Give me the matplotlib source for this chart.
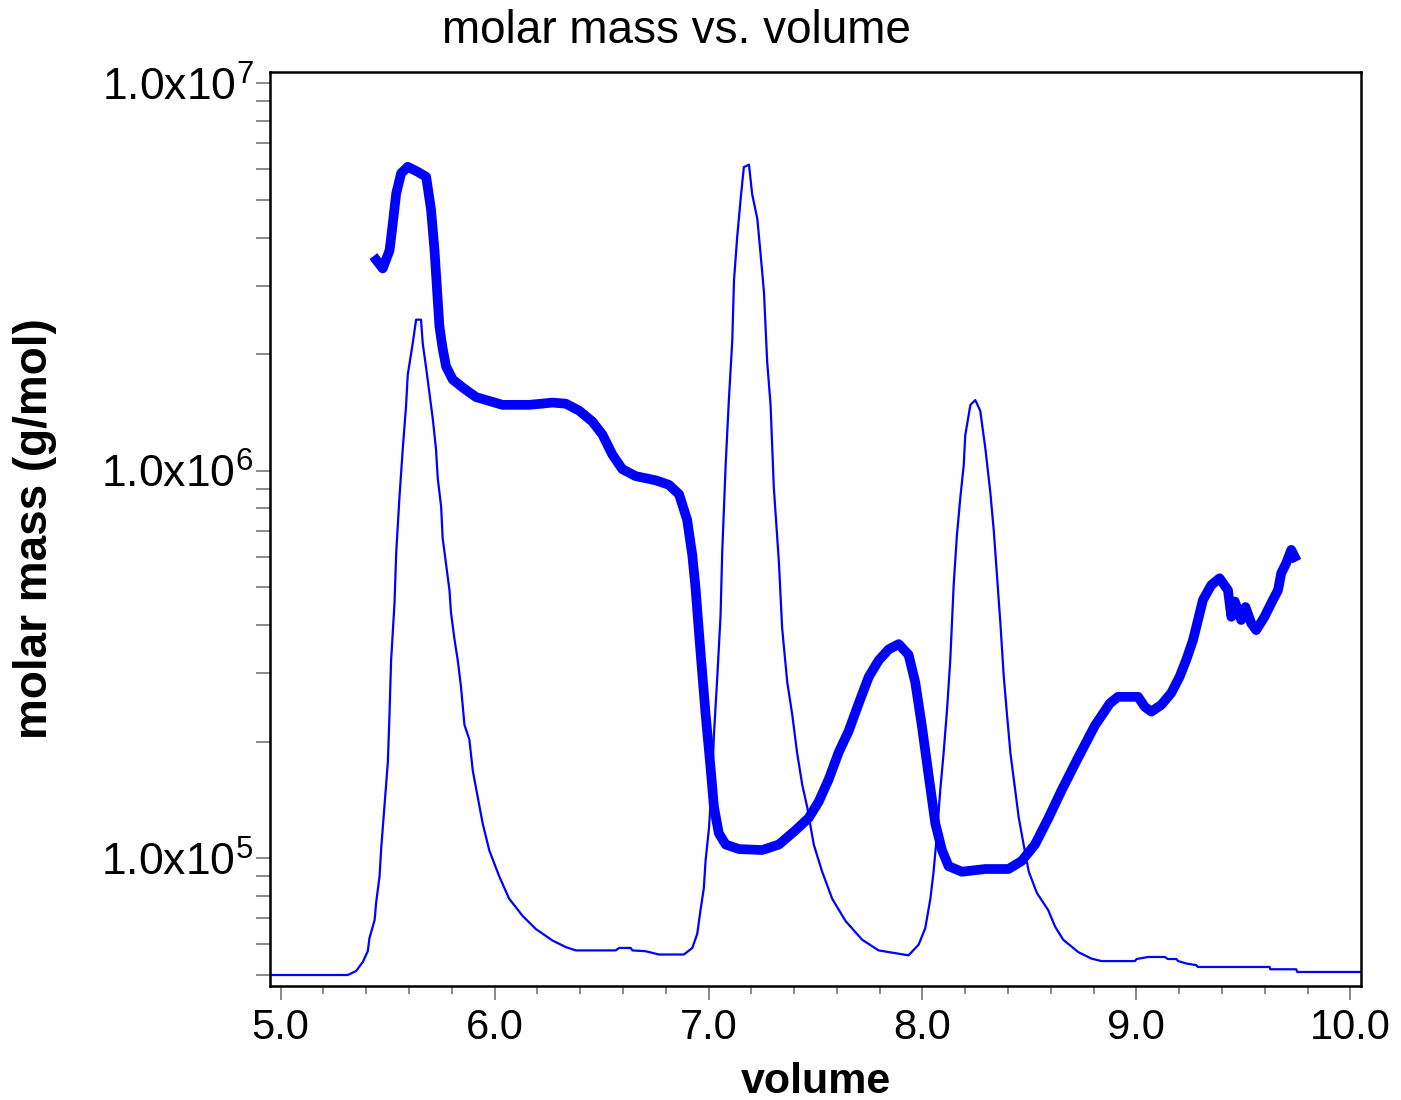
import matplotlib
matplotlib.use("Agg")
import matplotlib.pyplot as plt
from matplotlib.ticker import FixedLocator, FixedFormatter, LogLocator, NullFormatter, MultipleLocator
import numpy as np

plt.rcParams['font.family'] = ['Liberation Sans', 'DejaVu Sans']
plt.rcParams['mathtext.fontset'] = 'custom'
plt.rcParams['mathtext.rm'] = 'Liberation Sans'

# molar mass (thick trace)
mm_volume = [5.447, 5.477, 5.509, 5.524, 5.540, 5.563, 5.594, 5.641, 5.680, 5.703,
             5.719, 5.734, 5.742, 5.757, 5.773, 5.804, 5.851, 5.913, 6.037, 6.162,
             6.271, 6.333, 6.395, 6.457, 6.504, 6.551, 6.597, 6.659, 6.753, 6.815,
             6.862, 6.900, 6.924, 6.939, 6.963, 6.986, 7.010, 7.025, 7.048, 7.080,
             7.142, 7.251, 7.329, 7.406, 7.468, 7.515, 7.562, 7.609, 7.655, 7.702,
             7.749, 7.795, 7.842, 7.889, 7.935, 7.966, 7.997, 8.028, 8.060, 8.091,
             8.122, 8.184, 8.293, 8.402, 8.464, 8.526, 8.589, 8.651, 8.728, 8.806,
             8.876, 8.914, 9.008, 9.039, 9.070, 9.117, 9.163, 9.202, 9.233, 9.265,
             9.288, 9.311, 9.350, 9.389, 9.428, 9.444, 9.460, 9.490, 9.510, 9.537,
             9.560, 9.599, 9.630, 9.662, 9.677, 9.700, 9.724, 9.740]
molar_mass = [3.50e6, 3.33e6, 3.71e6, 4.35e6, 5.20e6, 5.86e6, 6.09e6, 5.91e6, 5.74e6, 4.71e6,
              3.71e6, 2.76e6, 2.36e6, 2.07e6, 1.86e6, 1.72e6, 1.64e6, 1.55e6, 1.48e6, 1.48e6,
              1.50e6, 1.49e6, 1.43e6, 1.34e6, 1.24e6, 1.10e6, 1.01e6, 9.69e5, 9.45e5, 9.20e5,
              8.70e5, 7.47e5, 6.06e5, 5.00e5, 3.38e5, 2.36e5, 1.70e5, 1.36e5, 1.16e5, 1.085e5,
              1.056e5, 1.05e5, 1.085e5, 1.18e5, 1.27e5, 1.40e5, 1.60e5, 1.88e5, 2.13e5, 2.51e5,
              2.94e5, 3.24e5, 3.46e5, 3.57e5, 3.35e5, 2.85e5, 2.20e5, 1.65e5, 1.23e5, 1.05e5,
              9.54e4, 9.23e4, 9.38e4, 9.38e4, 9.84e4, 1.085e5, 1.27e5, 1.50e5, 1.82e5, 2.20e5,
              2.51e5, 2.61e5, 2.61e5, 2.46e5, 2.39e5, 2.49e5, 2.67e5, 2.94e5, 3.25e5, 3.66e5,
              4.12e5, 4.64e5, 5.07e5, 5.28e5, 4.92e5, 4.20e5, 4.60e5, 4.12e5, 4.45e5, 4.04e5,
              3.88e5, 4.20e5, 4.55e5, 4.92e5, 5.44e5, 5.77e5, 6.25e5, 6.00e5]

# detector signal (thin trace), relative units
sig_volume = [4.950, 5.314, 5.353, 5.384, 5.407, 5.415, 5.439, 5.446, 5.462, 5.470,
              5.485, 5.501, 5.509, 5.516, 5.532, 5.540, 5.555, 5.571, 5.586, 5.594,
              5.617, 5.633, 5.656, 5.664, 5.680, 5.695, 5.711, 5.726, 5.734, 5.750,
              5.757, 5.773, 5.789, 5.796, 5.812, 5.828, 5.843, 5.859, 5.882, 5.898,
              5.921, 5.944, 5.975, 6.022, 6.068, 6.131, 6.193, 6.271, 6.333, 6.380,
              6.566, 6.582, 6.636, 6.644, 6.706, 6.768, 6.885, 6.924, 6.947, 6.963,
              6.978, 6.986, 7.002, 7.017, 7.025, 7.041, 7.056, 7.064, 7.080, 7.095,
              7.111, 7.119, 7.134, 7.150, 7.165, 7.189, 7.204, 7.228, 7.243, 7.259,
              7.274, 7.290, 7.305, 7.329, 7.344, 7.368, 7.391, 7.414, 7.438, 7.461,
              7.492, 7.531, 7.578, 7.640, 7.718, 7.795, 7.935, 7.982, 8.013, 8.037,
              8.052, 8.068, 8.083, 8.099, 8.115, 8.130, 8.146, 8.161, 8.177, 8.193,
              8.200, 8.224, 8.247, 8.270, 8.294, 8.317, 8.333, 8.348, 8.364, 8.380,
              8.395, 8.411, 8.434, 8.450, 8.473, 8.497, 8.535, 8.588, 8.620, 8.658,
              8.728, 8.790, 8.837, 8.993, 9.001, 9.055, 9.133, 9.147, 9.187, 9.195,
              9.234, 9.280, 9.288, 9.623, 9.626, 9.747, 9.752, 10.05]
signal = [0.0, 0.0, 0.005, 0.016, 0.029, 0.045, 0.067, 0.088, 0.120, 0.155,
          0.206, 0.260, 0.321, 0.383, 0.453, 0.515, 0.582, 0.643, 0.694, 0.732,
          0.770, 0.799, 0.799, 0.770, 0.740, 0.710, 0.678, 0.641, 0.606, 0.571,
          0.533, 0.501, 0.469, 0.442, 0.410, 0.383, 0.351, 0.305, 0.287, 0.249,
          0.217, 0.185, 0.152, 0.120, 0.093, 0.072, 0.056, 0.042, 0.034, 0.030,
          0.030, 0.033, 0.033, 0.030, 0.029, 0.025, 0.025, 0.033, 0.050, 0.080,
          0.106, 0.139, 0.179, 0.239, 0.292, 0.364, 0.437, 0.516, 0.622, 0.701,
          0.774, 0.847, 0.900, 0.946, 0.985, 0.988, 0.952, 0.922, 0.880, 0.833,
          0.748, 0.695, 0.595, 0.503, 0.423, 0.357, 0.318, 0.271, 0.232, 0.205,
          0.159, 0.126, 0.093, 0.066, 0.043, 0.030, 0.024, 0.037, 0.057, 0.093,
          0.126, 0.172, 0.225, 0.271, 0.324, 0.384, 0.476, 0.536, 0.582, 0.622,
          0.658, 0.695, 0.701, 0.688, 0.642, 0.589, 0.543, 0.489, 0.430, 0.364,
          0.318, 0.271, 0.225, 0.192, 0.159, 0.126, 0.100, 0.079, 0.059, 0.043,
          0.028, 0.020, 0.017, 0.017, 0.0195, 0.022, 0.022, 0.0195, 0.0195, 0.017,
          0.014, 0.012, 0.0098, 0.0098, 0.007, 0.007, 0.0037, 0.0037]

x_ticks = [5.0, 6.0, 7.0, 8.0, 9.0, 10.0]
x_tick_labels = ['5.0', '6.0', '7.0', '8.0', '9.0', '10.0']
y_ticks = [1e5, 1e6, 1e7]
y_tick_labels = [r'1.0x10$^{\mathregular{5}}$', r'1.0x10$^{\mathregular{6}}$',
                 r'1.0x10$^{\mathregular{7}}$']

fig = plt.figure(figsize=(14.01, 11.0), dpi=100)
ax = fig.add_axes([270/1401, 1 - 986/1100, (1361-270)/1401, (986-72)/1100])

# signal on a hidden linear axis
ax2 = ax.twinx()
ax2.plot(sig_volume, signal, color='#0000FF', lw=1.6)
ax2.set_ylim(-0.0134, 1.101)
ax2.set_yticks([])
for s in ax2.spines.values():
    s.set_visible(False)

# molar mass on top
ax.set_zorder(ax2.get_zorder() + 1)
ax.patch.set_visible(False)
ax.plot(mm_volume, molar_mass, color='#0000FF', lw=7,
        solid_joinstyle='round', solid_capstyle='projecting')

ax.set_yscale('log')
ax.set_xlim(4.95, 10.05)
ax.set_ylim(4.68e4, 1.07e7)

ax.xaxis.set_major_locator(FixedLocator(x_ticks))
ax.xaxis.set_major_formatter(FixedFormatter(x_tick_labels))
ax.xaxis.set_minor_locator(MultipleLocator(0.2))
ax.yaxis.set_major_locator(FixedLocator(y_ticks))
ax.yaxis.set_major_formatter(FixedFormatter(y_tick_labels))
ax.yaxis.set_minor_locator(LogLocator(base=10, subs=np.arange(2, 10)))
ax.yaxis.set_minor_formatter(NullFormatter())

ax.tick_params(axis='x', which='major', direction='out', length=10, width=1.3,
               color='#808080', labelsize=30, pad=6)
ax.tick_params(axis='x', which='minor', direction='out', length=6, width=1.3,
               color='#808080')
ax.tick_params(axis='y', which='both', direction='out', length=10, width=1.3,
               color='#808080', labelsize=32, pad=2)

for s in ax.spines.values():
    s.set_linewidth(1.8)
    s.set_color('black')

ax.set_xlabel('volume', fontsize=31, fontweight='bold')
ax.xaxis.set_label_coords(0.5, (986 - 1093) / 914, transform=ax.transAxes)
ax.xaxis.label.set_va('baseline')
ax.set_ylabel('molar mass (g/mol)', fontsize=33, fontweight='bold')
ax.yaxis.set_label_coords((57 - 270) / 1091, 0.5)
fig.text(676/1401, 1 - 43/1100, 'molar mass vs. volume', fontsize=33,
         ha='center', va='baseline')

plt.savefig('out.png', dpi=100)
